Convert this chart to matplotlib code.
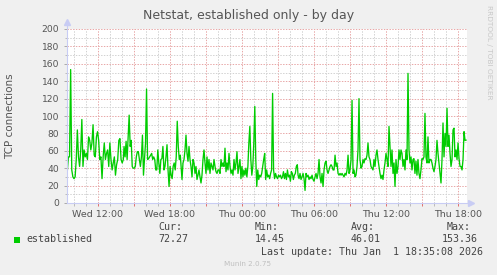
import numpy as np
import matplotlib
matplotlib.use('Agg')
import matplotlib.pyplot as plt
from matplotlib.ticker import MultipleLocator, FuncFormatter
from matplotlib.patches import Rectangle

# established TCP connections in blocks
# (time in hours counted from Wed 00:00)
seg_wed_morning = [36, 53, 53, 153.36, 38, 30, 28, 30, 50, 84, 53, 42, 61, 96, 42, 61, 53, 57, 50, 76,
                   72, 61, 69, 90, 55, 53, 76, 82, 72, 50, 53, 28, 53, 69, 50, 57, 61, 42, 69, 50,
                   38, 46, 53, 32, 44, 50, 72, 74, 50, 46, 50]
seg_wed_afternoon = [65, 53, 71, 50, 76, 101, 65, 72, 42, 40, 40, 42, 53, 59, 59, 50, 42, 53, 78, 32,
                     50, 69, 131, 50, 51, 53, 55, 57, 50, 53, 50, 38, 38, 61, 46, 34, 50, 51, 65, 38,
                     42, 53, 67, 38, 19, 42, 32, 28, 42, 46, 38, 53, 94, 65, 50, 55]
seg_wed_evening = [27, 46, 50, 61, 78, 57, 48, 65, 50, 42, 30, 50, 46, 34, 42, 27, 32, 38, 30, 23,
                   32, 50, 61, 46, 34, 53, 38, 50, 34, 46, 42, 38, 50, 42, 36, 34, 38, 38, 34, 50,
                   42, 46, 42, 63, 36, 46, 38, 57, 42, 34, 38, 32, 50, 38, 46, 59, 34, 42]
seg_thu_night = [50, 28, 42, 30, 38, 32, 40, 30, 42, 69, 88, 50, 32, 42, 69, 111, 50, 19, 38, 27,
                 32, 30, 34, 42, 50, 57, 27, 38, 30, 32, 28, 34, 38, 126, 38, 28, 34, 30, 28, 32,
                 30, 32, 28, 30, 36, 28, 34, 27, 38, 30, 32, 25, 36, 34, 27, 32, 34, 42, 44]
seg_thu_morning = [32, 28, 34, 27, 30, 34, 28, 14.45, 34, 30, 32, 27, 30, 28, 32, 27, 25, 30, 34, 28,
                   34, 50, 30, 23, 34, 19, 38, 46, 48, 38, 34, 38, 42, 44, 42, 38, 38, 55, 42, 46,
                   34, 32, 34, 32, 34, 32, 30, 34, 32, 38, 55, 34, 38, 50, 118, 34, 38, 30]
seg_thu_midday = [32, 42, 61, 120, 50, 40, 42, 50, 46, 51, 50, 55, 69, 53, 50, 42, 40, 38, 50, 42,
                  55, 61, 50, 42, 34, 28, 32, 27, 38, 46, 57, 50, 42, 88, 65, 42, 61, 34, 46, 19,
                  50, 34, 42, 61, 50, 61, 57, 42, 50, 38, 61, 50, 149, 61, 46, 53, 38, 50]
seg_thu_afternoon = [51, 34, 48, 32, 50, 34, 28, 38, 51, 50, 53, 103, 53, 46, 76, 46, 50, 50, 46, 40,
                     36, 42, 50, 72, 57, 46, 34, 23, 50, 92, 53, 80, 65, 109, 65, 78, 57, 42, 50, 84,
                     86, 53, 61, 50, 69, 51, 42, 42, 38, 50, 82, 72, 72.27]

segments = [seg_wed_morning, seg_wed_afternoon, seg_wed_evening, seg_thu_night,
            seg_thu_morning, seg_thu_midday, seg_thu_afternoon]
seg_start = [9.44, 14.17, 19.0, 23.83, 28.67, 33.5, 38.33]   # hours
seg_end = [14.11, 18.86, 23.75, 28.61, 33.42, 38.25, 42.67]

tick_hours = [12, 18, 24, 30, 36, 42]
tick_labels = ['Wed 12:00', 'Wed 18:00', 'Thu 00:00', 'Thu 06:00', 'Thu 12:00', 'Thu 18:00']

t = np.concatenate([np.linspace(a, b, len(s)) for s, a, b in zip(segments, seg_start, seg_end)])
v = np.concatenate([np.array(s, dtype=float) for s in segments])

W, H = 497, 275
fig = plt.figure(figsize=(W / 100, H / 100), dpi=100, facecolor='#F0F0F0')
ax = fig.add_axes([67 / W, 1 - 203 / H, 400 / W, 174 / H])
ax.set_facecolor('white')

ax.set_xlim(9.417, 42.75)
ax.set_ylim(0, 200)

ax.plot(t, v, color='#00CC00', lw=0.95, zorder=3)

# grids: gray minor, red major, dotted
ax.xaxis.set_major_locator(MultipleLocator(3))
ax.xaxis.set_minor_locator(MultipleLocator(1))
ax.yaxis.set_major_locator(MultipleLocator(20))
ax.yaxis.set_minor_locator(MultipleLocator(10))
ax.grid(which='minor', color='#D2D2D2', linestyle=(0, (1.4, 1.4)), lw=0.72)
ax.grid(which='major', color='#E8A8A8', linestyle=(0, (1.4, 1.4)), lw=0.72)
ax.set_axisbelow(True)

lab = dict(zip(tick_hours, tick_labels))
ax.xaxis.set_major_formatter(FuncFormatter(lambda x, p: lab.get(int(round(x)), '')))
ax.tick_params(axis='x', which='major', length=2.5, width=0.7, color='#E07070', pad=2.2,
               labelsize=6.8, labelcolor='#555555')
ax.tick_params(axis='x', which='minor', length=2, width=0.7, color='#BBBBBB')
ax.tick_params(axis='y', which='major', length=2.5, width=0.7, color='#AAAAAA', pad=3,
               labelsize=6.6, labelcolor='#555555')
ax.tick_params(axis='y', which='minor', length=1.5, width=0.7, color='#BBBBBB')

for sp in ax.spines.values():
    sp.set_visible(False)

# axes with arrows
axis_col = '#C8CCF4'
ax.plot([0, 1.01], [0, 0], color=axis_col, lw=0.8, transform=ax.transAxes, clip_on=False, zorder=4)
ax.plot([0, 0], [0, 1.04], color=axis_col, lw=0.8, transform=ax.transAxes, clip_on=False, zorder=4)
ax.plot([1.01], [0], marker='>', ms=4, color=axis_col, transform=ax.transAxes, clip_on=False)
ax.plot([0], [1.04], marker='^', ms=4, color=axis_col, transform=ax.transAxes, clip_on=False)

fig.text(249 / W, 1 - 15 / H, 'Netstat, established only - by day', ha='center', va='center',
         fontsize=9, color='#555555')
fig.text(10 / W, 1 - 116 / H, 'TCP connections', rotation=90, ha='center', va='center',
         fontsize=7.5, color='#555555')
fig.text(489 / W, 1 - 5 / H, 'RRDTOOL / TOBI OETIKER', rotation=270, ha='center', va='top',
         fontsize=5.3, color='#C8C8C8')

# legend
mono = dict(family='DejaVu Sans Mono', fontsize=7.2, color='#444444', va='center')
fig.patches.append(Rectangle((14 / W, 1 - 243 / H), 6 / W, 6 / H, transform=fig.transFigure,
                             facecolor='#00CC00', edgecolor='none'))
fig.text(26 / W, 1 - 239 / H, 'established', **mono)
fig.text(158 / W, 1 - 227 / H, 'Cur:', **mono)
fig.text(255 / W, 1 - 227 / H, 'Min:', **mono)
fig.text(351 / W, 1 - 227 / H, 'Avg:', **mono)
fig.text(447 / W, 1 - 227 / H, 'Max:', **mono)
fig.text(158 / W, 1 - 239 / H, '72.27', **mono)
fig.text(255 / W, 1 - 239 / H, '14.45', **mono)
fig.text(351 / W, 1 - 239 / H, '46.01', **mono)
fig.text(442 / W, 1 - 239 / H, '153.36', **mono)
fig.text(483 / W, 1 - 252 / H, 'Last update: Thu Jan  1 18:35:08 2026', ha='right', **mono)
fig.text(248 / W, 1 - 264 / H, 'Munin 2.0.75', ha='center', va='center', fontsize=5.2, color='#C0C0C0')

fig.savefig('out.png', dpi=100, facecolor=fig.get_facecolor())
